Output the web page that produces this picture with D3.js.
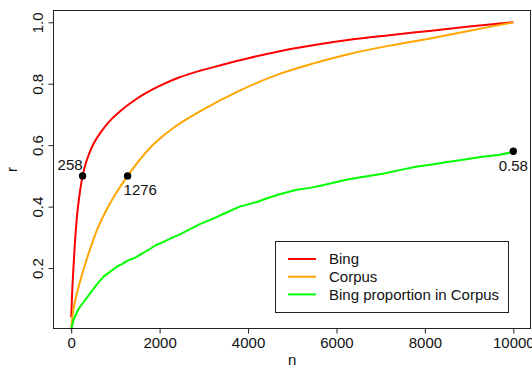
<!DOCTYPE html>
<html>
<head>
<meta charset="utf-8">
<script src="https://cdn.jsdelivr.net/npm/d3@7"></script>
<style>
  body { margin: 0; background: #fff; }
  svg { display: block; font-family: "Liberation Sans", Arial, sans-serif; }
</style>
</head>
<body>
<svg id="chart" width="532" height="367"></svg>
<script>
// values
const nBing = [1, 10, 25, 45, 65, 90, 120, 150, 200, 258, 350, 500, 700, 900, 1128, 1400, 1657, 2000, 2452, 2910, 3400, 4000, 4715, 5500, 6294, 7200, 8100, 9000, 10000]
const rBing = [0.04, 0.075, 0.13, 0.185, 0.235, 0.295, 0.35, 0.395, 0.45, 0.50, 0.55, 0.603, 0.648, 0.683, 0.713, 0.743, 0.767, 0.793, 0.821, 0.842, 0.861, 0.883, 0.906, 0.926, 0.943, 0.958, 0.972, 0.986, 1.0]

const nCorpus = [0, 45, 100, 233, 400, 600, 800, 1000, 1276, 1600, 1888, 2300, 2910, 3800, 4715, 5500, 6294, 7200, 8173, 9100, 10000]
const rCorpus = [0, 0.06, 0.10, 0.173, 0.25, 0.33, 0.39, 0.44, 0.50, 0.561, 0.606, 0.655, 0.71, 0.777, 0.832, 0.867, 0.897, 0.924, 0.949, 0.975, 1.0]

const nProp = [0, 50, 158, 270, 436, 600, 737, 900, 1038, 1150, 1286, 1450, 1602, 1780, 1924, 2100, 2300, 2450, 2600, 2910, 3200, 3500, 3812, 4200, 4450, 4715, 5100, 5400, 5617, 6000, 6250, 6519, 7046, 7400, 7798, 8200, 8550, 8900, 9301, 9700, 10000]
const rProp = [0, 0.03, 0.065, 0.087, 0.119, 0.15, 0.173, 0.19, 0.205, 0.213, 0.225, 0.234, 0.247, 0.262, 0.275, 0.286, 0.30, 0.309, 0.32, 0.343, 0.36, 0.38, 0.40, 0.415, 0.428, 0.44, 0.455, 0.461, 0.467, 0.48, 0.488, 0.495, 0.507, 0.518, 0.530, 0.538, 0.546, 0.553, 0.562, 0.569, 0.578]

const xTicks = [0, 2000, 4000, 6000, 8000, 10000]
const yTicks = [0.2, 0.4, 0.6, 0.8, 1.0]

const seriesNames = ["Bing", "Corpus", "Bing proportion in Corpus"]
const seriesColors = ["#ff0000", "#ffa500", "#00ff00"]

// marked points and their labels
const markN = [258, 1276, 10000]
const markR = [0.5, 0.5, 0.58]
const markText = ["258", "1276", "0.58"]

const svg = d3.select("#chart")
const x = d3.scaleLinear().domain([-400, 10400]).range([53.5, 531])
const y = d3.scaleLinear().domain([0.0016, 1.0384]).range([329, 10.5])

// smooth curves for the cumulative lines, plain polyline for the noisy one
const curves = [d3.curveCatmullRom.alpha(0.5), d3.curveCatmullRom.alpha(0.5), d3.curveLinear]
const series = [
  d3.zip(nBing, rBing),
  d3.zip(nCorpus, rCorpus),
  d3.zip(nProp, rProp)
]

series.forEach((s, i) => {
  const line = d3.line().x(d => x(d[0])).y(d => y(d[1])).curve(curves[i])
  svg.append("path")
    .datum(s)
    .attr("fill", "none")
    .attr("stroke", seriesColors[i])
    .attr("stroke-width", 2)
    .attr("stroke-linejoin", "round")
    .attr("d", line)
})

// plot box
svg.append("rect")
  .attr("x", 53.5).attr("y", 10.5)
  .attr("width", 477).attr("height", 318)
  .attr("fill", "none").attr("stroke", "#222").attr("stroke-width", 1)

// x axis
const xAxis = svg.append("g")
  .attr("transform", "translate(0,328.5)")
  .call(d3.axisBottom(x).tickValues(xTicks).tickSize(5).tickPadding(4).tickFormat(d3.format("d")))
xAxis.select(".domain").remove()
xAxis.selectAll("line").attr("stroke", "#222")
xAxis.selectAll("text").attr("font-size", 15).attr("fill", "#111")
  .attr("font-family", "Liberation Sans, Arial, sans-serif")

// y axis
const yAxis = svg.append("g")
  .attr("transform", "translate(53.5,0)")
  .call(d3.axisLeft(y).tickValues(yTicks).tickSize(5).tickFormat(d3.format(".1f")))
yAxis.select(".domain").remove()
yAxis.selectAll("line").attr("stroke", "#222")
yAxis.selectAll("text")
  .attr("font-size", 15).attr("fill", "#111")
  .attr("font-family", "Liberation Sans, Arial, sans-serif")
  .attr("text-anchor", "middle")
  .attr("dy", null)
  .attr("x", null)
  .attr("transform", "translate(-11,0) rotate(-90)")

// axis titles
svg.append("text")
  .attr("x", x(5000)).attr("y", 365)
  .attr("text-anchor", "middle").attr("font-size", 15).attr("fill", "#111")
  .text("n")
svg.append("text")
  .attr("transform", `translate(17,${(10 + 329) / 2}) rotate(-90)`)
  .attr("text-anchor", "middle").attr("font-size", 15).attr("fill", "#111")
  .text("r")

// marked points
svg.selectAll("circle.mark")
  .data(markN)
  .join("circle")
  .attr("class", "mark")
  .attr("cx", d => x(d))
  .attr("cy", (d, i) => y(markR[i]))
  .attr("r", 3.7)
  .attr("fill", "#000")

const labelPos = [
  { dx: 0, dy: -6, anchor: "end" },
  { dx: -4, dy: 19, anchor: "start" },
  { dx: 0, dy: 20, anchor: "middle" }
]
svg.selectAll("text.mark")
  .data(markText)
  .join("text")
  .attr("class", "mark")
  .attr("x", (d, i) => x(markN[i]) + labelPos[i].dx)
  .attr("y", (d, i) => y(markR[i]) + labelPos[i].dy)
  .attr("text-anchor", (d, i) => labelPos[i].anchor)
  .attr("font-size", 15).attr("fill", "#111")
  .text(d => d)

// legend
const legend = svg.append("g")
legend.append("rect")
  .attr("x", 275.5).attr("y", 241.5)
  .attr("width", 233).attr("height", 71)
  .attr("fill", "#fff").attr("stroke", "#222").attr("stroke-width", 1)
seriesNames.forEach((name, i) => {
  const ly = 259 + i * 17.7
  legend.append("line")
    .attr("x1", 288).attr("x2", 316)
    .attr("y1", ly).attr("y2", ly)
    .attr("stroke", seriesColors[i]).attr("stroke-width", 2)
  legend.append("text")
    .attr("x", 329).attr("y", ly + 5.3)
    .attr("font-size", 15).attr("fill", "#111")
    .text(name)
})
</script>
</body>
</html>
